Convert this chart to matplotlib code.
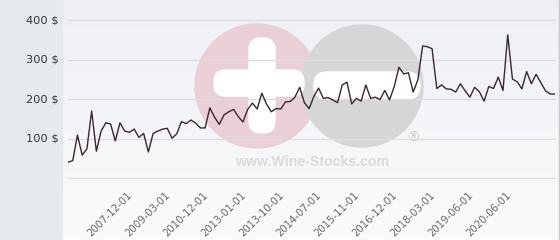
import numpy as np
import matplotlib
matplotlib.use("Agg")
import matplotlib.pyplot as plt
from matplotlib.patches import Circle, FancyBboxPatch, Rectangle
from matplotlib import transforms


# Prices (one point per auction)
prices = [
    40, 44, 109, 58, 74, 170, 68, 119, 140, 137,
    94, 140, 119, 116, 124, 103, 113, 66, 113, 119,
    124, 126, 101, 112, 143, 138, 147, 139, 127, 127,
    178, 154, 136, 160, 168, 174, 156, 142, 174, 190,
    175, 215, 187, 168, 176, 175, 193, 194, 205, 230,
    191, 176, 207, 228, 202, 204, 198, 191, 236, 243,
    188, 202, 195, 236, 202, 205, 199, 222, 198, 232,
    281, 264, 267, 218, 249, 335, 333, 328, 227, 236,
    226, 225, 218, 239, 221, 205, 230, 219, 195, 232,
    227, 256, 222, 363, 251, 244, 226, 270, 239, 263,
    242, 221, 213, 213,
]
date_labels = ['2007-12-01', '2009-03-01', '2010-12-01', '2013-01-01',
               '2013-10-01', '2014-07-01', '2015-11-01', '2016-12-01',
               '2018-03-01', '2019-06-01', '2020-06-01']
label_index = [12, 20, 28, 36, 44, 52, 60, 68, 76, 84, 92]
y_ticks = [100, 200, 300, 400]

W, H = 560, 240
fig = plt.figure(figsize=(W / 100, H / 100), dpi=100)

# background layer in pixel coords
bg = fig.add_axes([0, 0, 1, 1])
bg.set_xlim(0, W)
bg.set_ylim(H, 0)
bg.axis('off')
grad = np.linspace(0, 1, 100).reshape(-1, 1)
top = np.array([0.935, 0.940, 0.958])
bot = np.array([0.985, 0.985, 0.992])
img = top + (bot - top) * grad[:, :, None]
bg.imshow(img, extent=[63, 559, H, 0], aspect='auto', zorder=0)
bg.add_patch(Rectangle((0, 0), 62, H, color='#e6eaed', zorder=1))
bg.plot([559, 559], [0, H], color='#c8c8c8', lw=1, zorder=1)

# watermark
bg.add_patch(Circle((257, 86), 62, color='#eacfd6', zorder=2))
bg.add_patch(Circle((362, 86), 61, color='#d6d6d8', zorder=2))
bg.add_patch(FancyBboxPatch((249, 38), 26, 95, boxstyle='round,pad=0,rounding_size=12',
                            color='white', zorder=3))
bg.add_patch(FancyBboxPatch((214, 70), 90, 26, boxstyle='round,pad=0,rounding_size=12',
                            color='white', zorder=3))
bg.add_patch(FancyBboxPatch((314, 72), 106, 27, boxstyle='round,pad=0,rounding_size=13',
                            color='white', zorder=3))
bg.text(312, 162, 'www.Wine-Stocks.com', ha='center', va='center', fontsize=10.2,
        fontweight='bold', family='Liberation Sans', color='#dadada', zorder=4)
bg.text(413, 138, '®', ha='center', va='center', fontsize=10,
        family='DejaVu Sans', color='#d2d2d2', zorder=4)

# main chart
x0, x1 = 68, 555
y_bot, y_top = 178, 20.3
ax = fig.add_axes([x0 / W, 1 - y_bot / H, (x1 - x0) / W, (y_bot - y_top) / H])
ax.patch.set_alpha(0)
ax.set_xlim(0, len(prices) - 1)
ax.set_ylim(0, 400)
for s in ax.spines.values():
    s.set_visible(False)
for v in [0] + y_ticks:
    ax.axhline(v, color='#dedede', lw=1, zorder=1, clip_on=False)

ax.plot(range(len(prices)), prices, color='#3a2731', lw=1.0, zorder=3)

ax.set_xticks([])
ax.set_yticks([])
ytrans = transforms.offset_copy(ax.get_yaxis_transform(), fig=fig, x=-9 * 0.72, y=0, units='points')
for v in y_ticks:
    ax.text(0, v, f'{v} $', transform=ytrans, ha='right', va='center',
            fontsize=8.2, color='#333333', family='DejaVu Sans')

xtrans = transforms.offset_copy(ax.get_xaxis_transform(), fig=fig, x=2.5 * 0.72, y=-12 * 0.72,
                                units='points')
for i, lab in zip(label_index, date_labels):
    ax.text(i, 0, lab, transform=xtrans, ha='right', va='top', rotation=45,
            rotation_mode='anchor', fontsize=7.3, color='#666666', family='DejaVu Sans')

fig.savefig('out.png', dpi=100)
